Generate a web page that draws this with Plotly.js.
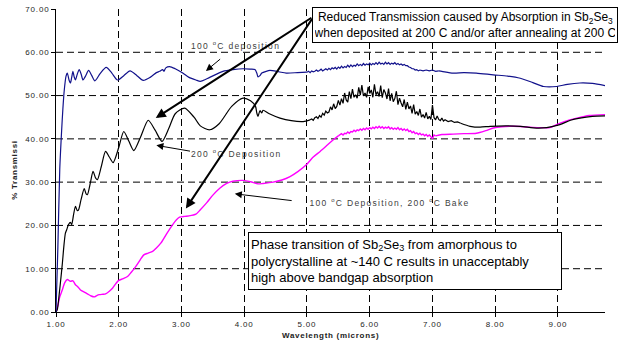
<!DOCTYPE html>
<html>
<head>
<meta charset="utf-8">
<script src="https://cdn.plot.ly/plotly-3.0.1.min.js"></script>
<style>
  html, body { margin: 0; padding: 0; background: #fff; }
  #chart { width: 621px; height: 342px; }
  .xtick text, .ytick text { letter-spacing: 0.8px; }
  .annotation[data-index="2"] text, .annotation[data-index="3"] text, .annotation[data-index="4"] text { letter-spacing: 1.3px; }
  .annotation[data-index="5"] text, .annotation[data-index="6"] text { letter-spacing: 0.7px; }
</style>
</head>
<body>
<div id="chart"></div>
<script>
// ---- Data (wavelength in microns, % transmission) ----
const blueX = [1.00,1.03,1.06,1.09,1.11,1.13,1.16,1.18,1.21,1.23,1.25,1.27,1.29,1.31,1.34,1.37,1.40,1.43,1.47,1.52,1.57,1.62,1.70,1.80,1.89,1.98,2.08,2.18,2.29,2.39,2.50,2.60,2.65,2.70,2.72,2.75,2.81,2.90,3.02,3.12,3.23,3.30,3.45,3.66,3.82,3.98,4.10,4.17,4.20,4.22,4.25,4.28,4.35,4.41,4.55,4.67,4.85,
  5.000,5.025,5.050,5.075,5.100,5.125,5.150,5.175,5.200,5.225,5.250,5.275,5.300,5.325,5.350,5.375,5.400,5.425,5.450,5.475,5.500,5.525,5.550,5.575,5.600,5.625,5.650,5.675,5.700,5.725,5.750,5.775,5.800,5.825,5.850,5.875,5.900,5.925,5.950,5.975,6.000,6.025,6.050,6.075,6.100,6.125,6.150,6.175,6.200,6.225,6.250,6.275,6.300,6.325,6.350,6.375,6.400,6.425,6.450,6.475,6.500,6.525,6.550,6.575,6.600,6.625,6.650,6.675,6.700,6.725,6.750,6.775,6.800,6.850,6.900,6.950,7.000,7.050,7.100,
  7.15,7.33,7.50,7.70,7.97,8.20,8.40,8.60,8.77,8.98,9.15,9.35,9.55,9.75];
const blueY = [0,15,33,42,47,51,54.5,55.2,53.5,52.9,54.2,55.6,54.3,53.6,55.0,56.0,55.0,53.6,54.5,55.8,54.6,53.4,55.0,56.5,55.2,53.6,54.6,55.7,54.6,53.5,54.2,55.3,55.6,56.0,55.6,56.4,56.7,56.2,55.2,54.2,53.6,53.3,54.2,55.6,56.0,56.2,56.1,56.0,55.2,54.3,54.6,55.2,55.6,55.8,55.5,55.2,55.3,
  55.4,55.6,55.3,55.7,55.5,55.6,55.9,55.6,55.8,56.1,55.7,56.0,56.2,55.9,56.3,56.0,56.4,56.2,56.5,56.1,56.6,56.3,56.8,56.4,56.7,56.5,57.0,56.6,57.1,56.7,57.0,56.8,57.3,56.9,57.2,56.9,57.4,57.0,57.3,57.1,57.5,57.1,57.4,57.2,57.6,57.2,57.7,57.3,57.5,57.2,57.7,57.3,57.6,57.2,57.5,57.3,57.6,57.2,57.4,57.1,57.3,57.0,57.2,56.9,56.9,56.6,56.5,56.2,56.2,55.9,56.0,55.7,55.9,55.7,55.9,55.7,55.9,55.6,55.7,
  55.6,55.2,55.3,55.2,54.8,54.5,54.0,53.0,52.1,52.1,52.6,52.9,52.8,52.3];

const blackX = [1.00,1.02,1.05,1.07,1.10,1.13,1.15,1.17,1.20,1.23,1.25,1.28,1.31,1.34,1.36,1.40,1.45,1.48,1.50,1.55,1.59,1.63,1.66,1.72,1.79,1.85,1.91,2.00,2.08,2.16,2.24,2.35,2.47,2.58,2.69,2.80,2.90,3.05,3.20,3.30,3.45,3.60,3.80,3.98,4.10,4.18,4.20,4.22,4.25,4.28,4.30,4.40,4.57,4.75,4.94,
  5.050,5.075,5.100,5.125,5.150,5.175,5.200,5.225,5.250,5.275,5.300,5.325,5.350,5.375,5.400,5.425,5.450,5.475,5.500,5.525,5.550,5.575,5.600,5.625,5.650,5.675,5.700,5.725,5.750,5.775,5.800,5.825,5.850,5.875,5.900,5.925,5.950,5.975,6.000,6.025,6.050,6.075,6.100,6.125,6.150,6.175,6.200,6.225,6.250,6.275,6.300,6.325,6.350,6.375,6.400,6.425,6.450,6.475,6.500,6.525,6.550,6.575,6.600,6.625,6.650,6.675,6.700,6.725,6.750,6.775,6.800,6.825,6.850,6.875,6.900,6.925,6.950,6.975,7.000,7.025,7.050,7.075,7.100,7.125,7.150,7.175,7.200,7.250,7.300,7.350,7.400,7.450,
  7.60,7.76,7.92,8.18,8.40,8.66,8.82,9.03,9.20,9.35,9.55,9.75];
const blackY = [0,0.5,4,6.7,11,15.9,18.2,19,20.2,20.7,20.2,22.5,24.4,23.4,23.6,26,28.5,27.3,27.1,30,32.5,31,30.6,33.5,37.1,35.8,34.5,38,41.7,39.5,37.3,40.5,44.3,42,39.4,42.5,45.8,47.1,45,43,42.1,43.5,47.5,49.4,48.8,47.5,46,45.2,46.5,46,46.6,45.8,44.8,44.2,44.0,
  44.4,44.6,44.3,44.9,45.1,44.7,45.4,45.0,45.9,45.5,46.4,46.0,46.2,47.4,46.7,48.1,47.0,47.5,48.9,47.8,49.3,48.2,50.6,49.0,48.5,50.9,49.3,51.5,49.6,50.2,49.4,51.9,50.1,52.4,49.9,50.6,49.6,52.0,50.5,51.3,49.6,52.6,50.2,50.9,49.8,52.3,49.5,51.4,50.6,49.2,51.6,48.8,50.5,48.6,49.3,51.0,47.9,49.4,48.3,47.4,49.1,46.8,48.5,46.9,47.6,45.9,47.9,45.7,46.3,45.4,46.9,45.0,45.6,44.8,46.1,44.6,45.2,44.5,47.8,44.9,44.4,45.3,44.5,44.2,44.8,44.1,44.4,44.0,44.2,43.8,43.9,43.6,
  42.9,42.7,42.9,43.0,42.9,42.5,42.6,43.3,44.3,44.8,45.2,45.3];

const magentaX = [1.00,1.03,1.06,1.10,1.14,1.18,1.23,1.27,1.31,1.35,1.39,1.45,1.50,1.56,1.61,1.65,1.69,1.75,1.79,1.85,1.90,1.95,2.00,2.07,2.14,2.20,2.27,2.34,2.40,2.47,2.54,2.60,2.67,2.76,2.86,2.92,2.97,3.05,3.12,3.23,3.30,3.40,3.50,3.61,3.72,3.82,3.98,4.10,4.22,4.30,4.46,4.60,4.73,4.86,4.99,5.10,5.21,5.32,5.42,
  5.500,5.525,5.550,5.575,5.600,5.625,5.650,5.675,5.700,5.725,5.750,5.775,5.800,5.825,5.850,5.875,5.900,5.925,5.950,5.975,6.000,6.025,6.050,6.075,6.100,6.125,6.150,6.175,6.200,6.225,6.250,6.275,6.300,6.325,6.350,6.375,6.400,6.425,6.450,6.475,6.500,6.525,6.550,6.575,6.600,6.625,6.650,6.675,6.700,6.725,6.750,6.775,6.800,6.825,6.850,6.875,6.900,6.925,6.950,6.975,7.000,7.025,7.050,
  7.15,7.33,7.50,7.70,7.85,7.97,8.10,8.29,8.45,8.55,8.70,8.87,8.98,9.10,9.30,9.50,9.75];
const magentaY = [0,1.5,3.5,5.1,6.8,7.5,7.1,7.2,6.3,5.8,5.1,4.6,4.2,3.7,3.5,3.8,4.0,4.1,4.2,4.8,5.5,6.5,7.3,7.7,8.2,9.2,10.5,12,13.2,13.6,14.0,14.8,15.9,18,20.2,21.3,21.9,22.1,22.2,22.6,23.6,25.2,27,28.6,29.7,30.2,30.4,30.1,29.6,29.7,30.0,30.5,31.3,32.5,34.0,35.8,37.1,38.5,39.8,
  40.7,40.9,41.2,40.9,41.3,41.2,41.6,41.3,41.7,41.6,42.0,41.7,42.1,41.9,42.3,42.0,42.4,42.1,42.5,42.2,42.6,42.3,42.7,42.4,42.8,42.5,42.9,42.5,42.8,42.4,42.7,42.5,42.8,42.3,42.6,42.2,42.5,42.2,42.6,42.1,42.4,42.0,42.3,41.9,42.2,41.7,41.9,41.4,41.7,41.2,41.4,41.0,41.3,40.9,41.1,40.7,41.0,40.6,40.9,40.5,40.0,40.9,40.7,
  41.0,41.1,41.2,41.3,41.9,42.5,42.8,42.9,42.8,42.7,42.6,42.6,43.3,44.0,44.8,45.4,45.6];

const xTicks = [1,2,3,4,5,6,7,8,9];
const yTicks = [0,10,20,30,40,50,60,70];
const yGrid = [10,20,30,40,50,60];

// ---- Chart ----
// Smooth stretches are drawn as splines, noisy stretches as straight segments.
function pieces(x, y, color, width, breaks) {
  const out = [];
  for (let k = 0; k < breaks.length - 1; k++) {
    const lo = breaks[k], hi = breaks[k + 1];
    const xs = [], ys = [];
    x.forEach((v, i) => { if (v >= lo - 1e-9 && v <= hi + 1e-9) { xs.push(v); ys.push(y[i]); } });
    out.push({
      x: xs, y: ys, type: 'scatter', mode: 'lines', hoverinfo: 'skip',
      line: { color: color, width: width, shape: k % 2 === 0 ? 'spline' : 'linear', smoothing: 0.7 }
    });
  }
  return out;
}

const traces = [].concat(
  pieces(magentaX, magentaY, '#ff00ff', 1.4, [1.0, 5.5, 7.05, 9.75]),
  pieces(blackX, blackY, '#000000', 1.2, [1.0, 5.05, 7.45, 9.75]),
  pieces(blueX, blueY, '#12128c', 1.2, [1.0, 5.0, 7.1, 9.75])
);

const labelFont = { family: 'Liberation Sans, Arial, sans-serif', size: 8.5, color: '#404040' };
const boxFont = { family: 'Liberation Sans, Arial, sans-serif', size: 12, color: '#000' };
const arrow = (hx, hy, tx, ty, w, s) => ({
  x: hx, y: hy, ax: tx, ay: ty, xref: 'x', yref: 'y', axref: 'x', ayref: 'y',
  text: '', showarrow: true, arrowhead: 2, arrowsize: s, arrowwidth: w, arrowcolor: '#000', standoff: 0, startstandoff: 0
});

const annotations = [
  { // 0
    xref: 'paper', yref: 'paper', x: 0.745, y: 0.948, xanchor: 'center', yanchor: 'middle',
    text: 'Reduced Transmission caused by Absorption in Sb<sub>2</sub>Se<sub>3</sub><br>when deposited at 200 C and/or after annealing at 200 C',
    showarrow: false, font: boxFont, align: 'center', bgcolor: '#fff', bordercolor: '#000', borderwidth: 1, borderpad: 2,
    width: 300, height: 30
  },
  { // 1
    xref: 'paper', yref: 'paper', x: 0.6357, y: 0.169, xanchor: 'center', yanchor: 'middle',
    text: 'Phase transition of Sb<sub>2</sub>Se<sub>3</sub> from amorphous to<br>polycrystalline at ~140 C results in unacceptably<br>high above bandgap absorption',
    showarrow: false, font: { family: 'Liberation Sans, Arial, sans-serif', size: 13, color: '#000' }, align: 'left',
    bgcolor: '#fff', bordercolor: '#000', borderwidth: 1, borderpad: 2, width: 308, height: 52
  },
  { xref: 'x', yref: 'y', x: 3.866, y: 61.57, xanchor: 'center', yanchor: 'middle', showarrow: false,
    text: '100 <sup>o</sup>C deposition', font: labelFont }, // 2
  { xref: 'x', yref: 'y', x: 3.877, y: 36.7, xanchor: 'center', yanchor: 'middle', showarrow: false,
    text: '200 <sup>o</sup>C Deposition', font: labelFont }, // 3
  { xref: 'x', yref: 'y', x: 6.317, y: 25.2, xanchor: 'center', yanchor: 'middle', showarrow: false,
    text: '100 <sup>o</sup>C Deposition, 200 <sup>o</sup>C Bake', font: labelFont }, // 4
  { xref: 'paper', yref: 'paper', x: 0.5, y: -0.078, xanchor: 'center', yanchor: 'middle', showarrow: false,
    text: '<b>Wavelength (microns)</b>', font: { family: 'Liberation Sans, Arial, sans-serif', size: 8, color: '#222' } }, // 5
  { xref: 'paper', yref: 'paper', x: -0.0747, y: 0.47, xanchor: 'center', yanchor: 'middle', showarrow: false, textangle: -90,
    text: '<b>% Transmissi</b>', font: { family: 'Liberation Sans, Arial, sans-serif', size: 8, color: '#222' } }, // 6
  arrow(2.59, 44.8, 5.095, 68.2, 2, 1),
  arrow(3.07, 23.9, 5.095, 68.0, 2, 1),
  arrow(3.39, 55.7, 3.64, 58.7, 1, 1.4),
  arrow(2.60, 38.5, 3.16, 37.1, 1, 1.4),
  arrow(3.85, 27.3, 4.78, 25.7, 1, 1.4)
];

// Horizontal dashed grid lines (none at the top edge, as in the original)
const shapes = yGrid.map(v => ({
  type: 'line', xref: 'paper', yref: 'y', x0: 0, x1: 1, y0: v, y1: v, layer: 'below',
  line: { color: '#000', width: 1, dash: '7px,4px' }
}));

const axisCommon = {
  showline: true, linecolor: '#000', linewidth: 1,
  ticks: 'outside', ticklen: 4, tickcolor: '#000', tickwidth: 1,
  zeroline: false, tickformat: '.2f',
  tickfont: { family: 'Liberation Sans, Arial, sans-serif', size: 8, color: '#1e1e1e' }
};

const layout = {
  width: 621, height: 342,
  margin: { l: 56, r: 16, t: 9, b: 30 },
  paper_bgcolor: '#fff', plot_bgcolor: '#fff',
  showlegend: false, hovermode: false,
  xaxis: Object.assign({}, axisCommon, { showgrid: true, gridcolor: '#000', gridwidth: 1, griddash: '7px,4px', range: [1, 9.75], tickvals: xTicks }),
  yaxis: Object.assign({}, axisCommon, { showgrid: false, range: [0, 70], tickvals: yTicks }),
  shapes: shapes,
  annotations: annotations
};

Plotly.newPlot('chart', traces, layout, { displayModeBar: false, staticPlot: true });
</script>
</body>
</html>
